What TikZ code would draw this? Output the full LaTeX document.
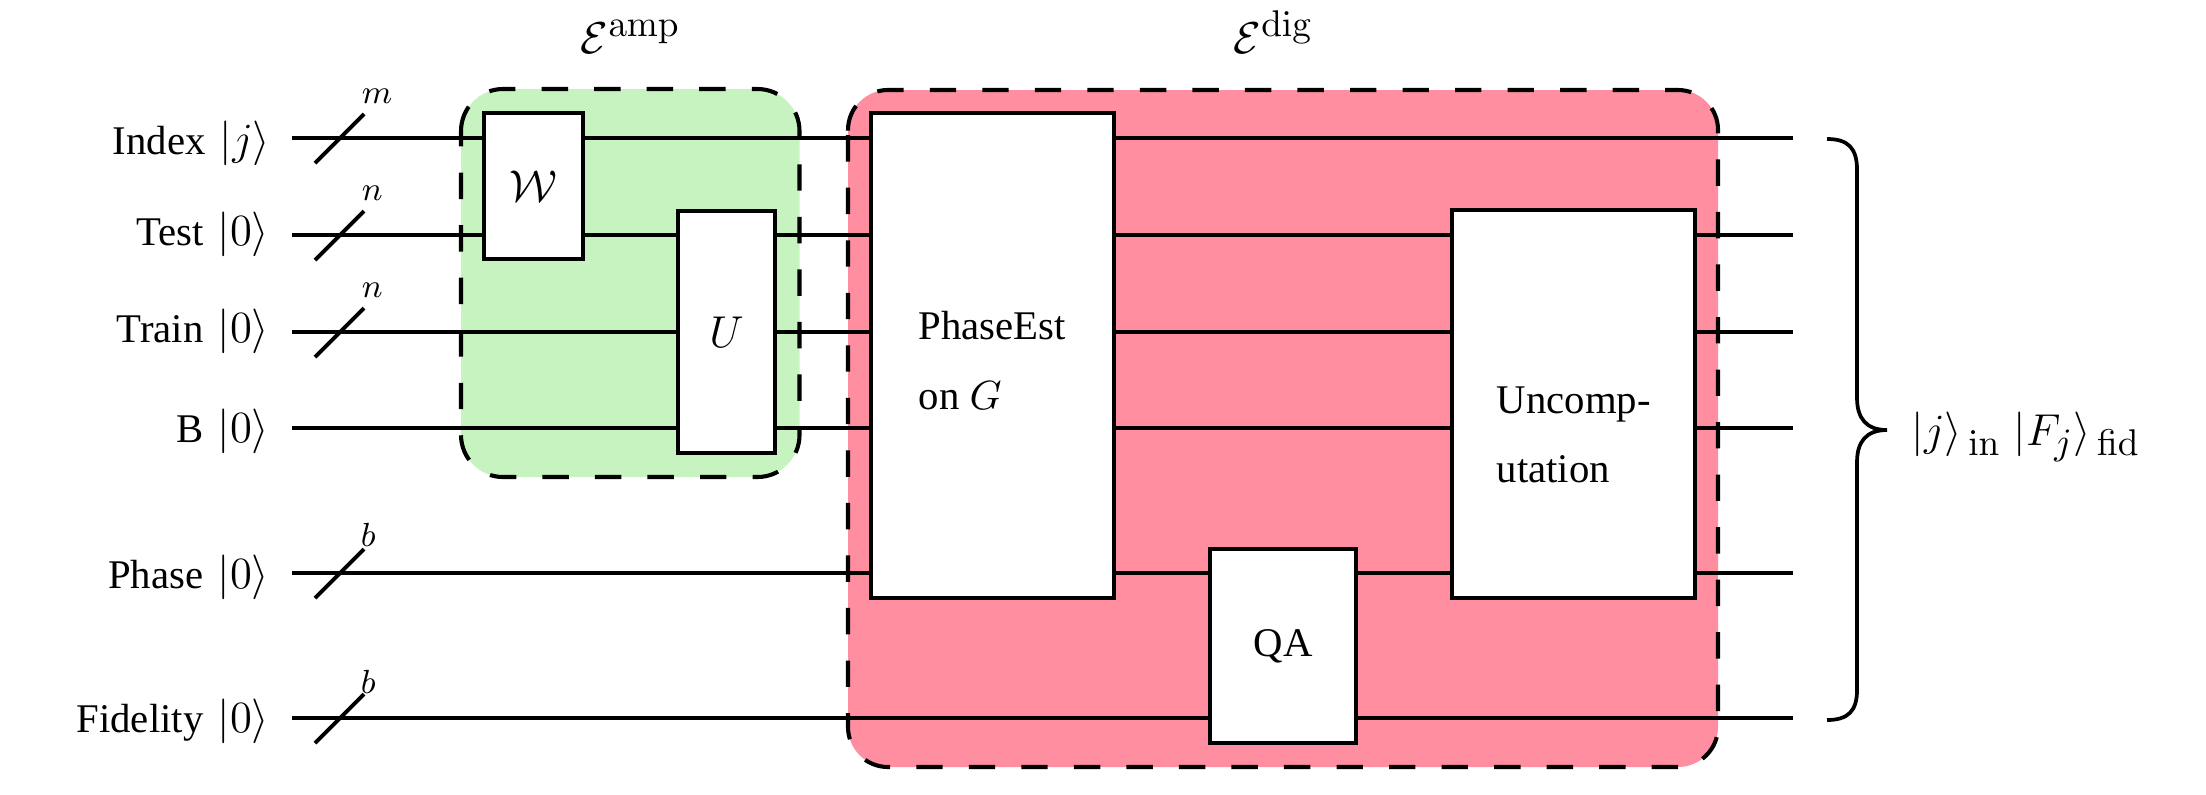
\documentclass[tikz,border=0pt,11pt]{standalone}
\usepackage{amsmath}
\usepackage[no-math]{fontspec}
\setmainfont{Liberation Serif}
\DeclareMathSizes{12}{12}{10}{7}
\definecolor{ampgreen}{HTML}{C6F3C0}
\definecolor{digred}{HTML}{FF8FA0}
\newcommand{\pxu}{0.2688pt}
\newcommand{\kgap}{\hspace{1.1pt}}
\newcommand{\ketzero}{{\large$|0\rangle$}}
\newcommand{\lowsub}[1]{\lower1pt\hbox{$\scriptstyle\,\mathrm{#1}$}}
\tikzset{
  x=0.2688pt,y=-0.2688pt,
  region/.style={draw=black,line width=1.1pt,dash pattern=on 7.09pt off 7.03pt},
  gatebox/.style={draw=black,fill=white,line width=1.1pt,inner sep=0pt,outer sep=0pt},
  wire/.style={line width=1.05pt},
  slashmark/.style={line width=1.05pt},
  wirelabel/.style={anchor=base east,inner sep=0pt},
  count/.style={font=\footnotesize,inner sep=0pt,anchor=base west},
  gatetext/.style={align=left,anchor=base west,inner sep=0pt}
}
\begin{document}
\begin{tikzpicture}
\useasboundingbox (0,0) rectangle (2206,794);
% regions
\draw[region,fill=ampgreen,rounded corners=11.3pt] (461,131.5) -- (461,89) -- (799.5,89) -- (799.5,477) -- (461,477) -- (461,131.5);
\draw[region,fill=digred,rounded corners=10.75pt] (848,130.5) -- (848,90) -- (1718,90) -- (1718,767) -- (848,767) -- (848,130.5);
\node[inner sep=0pt,anchor=base west] (amplabel) at (580,53) {\large $\mathcal{E}^{\mathrm{amp}}$};
\node[inner sep=0pt,anchor=base west] (diglabel) at (1233,53) {\large $\mathcal{E}^{\mathrm{dig}}$};
% wire ends
\foreach \n/\yy in {a/138,b/235,c/332,d/428,e/573,f/718}{
  \coordinate (in\n) at (292,\yy);
  \coordinate (out\n) at (1793,\yy);
  \draw[wire] (in\n) -- (out\n);
}
% wire labels
\node[wirelabel] (la) at (271,154) {Index\kgap{} {\large$|j\rangle$}};
\node[wirelabel] (lb) at (270,245) {Test\kgap{} \ketzero};
\node[wirelabel] (lc) at (270,342) {Train\kgap{} \ketzero};
\node[wirelabel] (ld) at (270,442) {B\kgap{} \ketzero};
\node[wirelabel] (le) at (270,588) {Phase\kgap{} \ketzero};
\node[wirelabel] (lf) at (270,732) {Fidelity\kgap{} \ketzero};
% slashes and counts
\foreach \n/\yy in {a/138,b/235,c/332,e/573,f/718}{
  \coordinate (s\n1) at (315,\yy+25);
  \coordinate (s\n2) at (364,\yy-24);
  \draw[slashmark] (s\n1) -- (s\n2);
}
\node[count] (ta) at (361,103) {$m$};
\node[count] (tb) at (361,200) {$n$};
\node[count] (tc) at (361,297) {$n$};
\node[count] (te) at (360,546) {$b$};
\node[count] (tf) at (360,693) {$b$};
% gates
\node[gatebox,minimum width=99*\pxu,minimum height=146*\pxu] (W) at (533.5,186) {\large $\mathcal{W}$};
\node[gatebox,minimum width=97*\pxu,minimum height=242*\pxu] (U) at (726.5,332) {\large $U$};
\node[gatebox,minimum width=243*\pxu,minimum height=485*\pxu] (PE) at (992.5,355.5) {};
\node[gatebox,minimum width=243*\pxu,minimum height=388*\pxu] (UC) at (1573.5,404) {};
\node[gatebox,minimum width=146*\pxu,minimum height=194*\pxu] (QA) at (1283,646) {QA};
\node[gatetext] (pe1) at (918,339) {PhaseEst};
\node[gatetext] (pe2) at (918,409) {on $G$};
\node[gatetext] (uc1) at (1496,413) {Uncomp-};
\node[gatetext] (uc2) at (1496,482) {utation};
% brace
\coordinate (bt) at (1827,139);
\coordinate (bm) at (1887,430);
\coordinate (bb) at (1827,720);
\draw[line width=1pt] (bt) .. controls (1848,139) and (1857,148) .. (1857,170)
  -- (1857,398) .. controls (1857,418) and (1866,430) .. (bm)
  .. controls (1866,430) and (1857,442) .. (1857,462)
  -- (1857,690) .. controls (1857,711) and (1848,720) .. (bb);
\node[anchor=base west,inner sep=0pt] (result) at (1911,445) {\large $|j\rangle_{\lowsub{in}}\;|F_j\rangle_{\lowsub{fid}}$};
\end{tikzpicture}
\end{document}
